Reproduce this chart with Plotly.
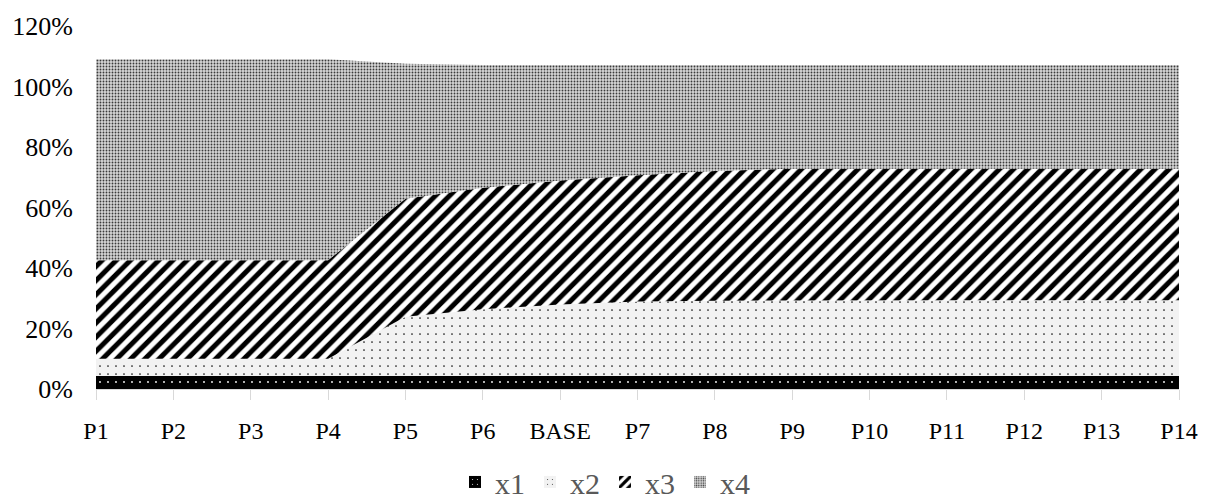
import plotly.graph_objects as go

categories = ["P1", "P2", "P3", "P4", "P5", "P6", "BASE", "P7", "P8", "P9", "P10", "P11", "P12", "P13", "P14"]
x1 = [4.3] * 15
x2 = [5.7, 5.7, 5.7, 5.7, 19.6, 22.1, 23.6, 24.6, 24.9, 25.0, 25.0, 25.0, 25.0, 25.0, 25.0]
x3 = [32.6, 32.6, 32.6, 32.6, 39.0, 40.1, 41.0, 41.8, 42.9, 43.5, 43.5, 43.5, 43.5, 43.5, 43.5]
x4 = [66.4, 66.4, 66.4, 66.4, 44.6, 40.6, 38.2, 36.4, 35.0, 34.3, 34.3, 34.3, 34.3, 34.3, 34.3]
y_ticks = [0, 20, 40, 60, 80, 100, 120]
y_tick_labels = ["0%", "20%", "40%", "60%", "80%", "100%", "120%"]

xs = list(range(len(categories)))
FONT = "Liberation Serif, Times New Roman, serif"

series = [
    ("x1", x1, dict(shape=".", bgcolor="#000000", fgcolor="#ffffff", size=8, solidity=0.04, fillmode="replace")),
    ("x2", x2, dict(shape=".", bgcolor="#f2f2f2", fgcolor="#111111", size=8, solidity=0.035, fillmode="replace")),
    ("x3", x3, dict(shape="/", bgcolor="#ffffff", fgcolor="#000000", size=10, solidity=0.5, fillmode="replace")),
    ("x4", x4, dict(shape=".", bgcolor="#d6d6d6", fgcolor="#3a3a3a", size=3, solidity=0.3, fillmode="replace")),
]

fig = go.Figure()
for name, vals, pat in series:
    fig.add_trace(go.Scatter(
        x=xs, y=vals, name=name, mode="lines", legendgroup=name, showlegend=False,
        stackgroup="one", line=dict(width=0, color=pat["bgcolor"]),
        fillcolor=pat["bgcolor"], fillpattern=pat,
        hoverinfo="skip",
    ))

# legend entries (square pattern swatches like the original)
for name, vals, pat in series:
    lp = dict(pat)
    lp["size"] = {"x1": 6, "x2": 6, "x3": 8, "x4": 3}[name]
    fig.add_trace(go.Bar(
        x=[None], y=[None], name=name, legendgroup=name, showlegend=True,
        marker=dict(color=pat["bgcolor"], line=dict(width=0), pattern=lp),
        hoverinfo="skip",
    ))

fig.update_layout(
    width=1210, height=501,
    margin=dict(l=95, r=23, t=26, b=112),
    paper_bgcolor="white", plot_bgcolor="white",
    font=dict(family=FONT, size=26, color="#000000"),
    showlegend=True,
    legend=dict(
        orientation="h", x=0.5, xanchor="center", xref="container",
        y=0.038, yanchor="middle", yref="container",
        font=dict(family=FONT, size=30, color="#595959"),
        itemwidth=30, traceorder="normal", itemclick=False, itemdoubleclick=False,
        tracegroupgap=0,
    ),
    xaxis=dict(
        range=[0, len(categories) - 1], tickmode="array", tickvals=xs, ticktext=categories,
        showgrid=False, zeroline=False, showline=True, linecolor="#d9d9d9", linewidth=1,
        ticks="outside", ticklen=10, tickcolor="#d9d9d9", tickfont=dict(size=24, color="#000000"),
        ticklabelstandoff=10, fixedrange=True,
    ),
    yaxis=dict(
        range=[0, 120], tickmode="array", tickvals=y_ticks, ticktext=y_tick_labels,
        showgrid=False, zeroline=False, showline=False, ticks="",
        ticklabelstandoff=22, tickfont=dict(size=26, color="#000000"), fixedrange=True,
    ),
)

fig.write_html("out.html")
